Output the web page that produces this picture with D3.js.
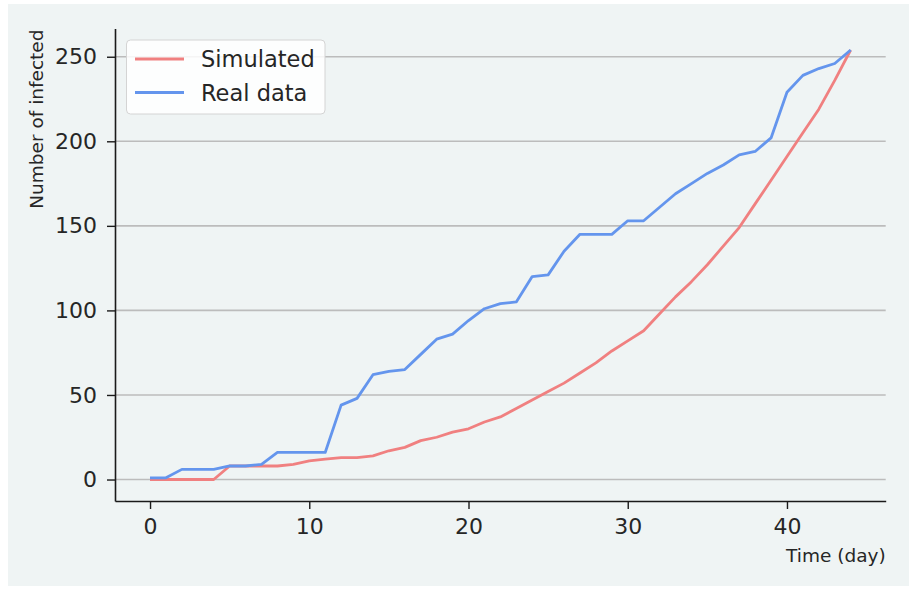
<!DOCTYPE html>
<html>
<head>
<meta charset="utf-8">
<script src="https://cdn.jsdelivr.net/npm/d3@7"></script>
<style>
  html, body { margin: 0; padding: 0; background: #ffffff; }
  svg { display: block; font-family: "DejaVu Sans", sans-serif; }
</style>
</head>
<body>
<svg id="chart" width="917" height="589"></svg>
<script>
// Daily counts of infected people, day 0 to day 44
const days = d3.range(0, 45);
const simulated = [0, 0, 0, 0, 0, 8, 8, 8, 8, 9, 11, 12, 13, 13, 14, 17, 19, 23, 25, 28,
  30, 34, 37, 42, 47, 52, 57, 63, 69, 76, 82, 88, 98, 108, 117, 127, 138, 149, 163, 177,
  191, 205, 219, 236, 254];
const realData = [1, 1, 6, 6, 6, 8, 8, 9, 16, 16, 16, 16, 44, 48, 62, 64, 65, 74, 83, 86,
  94, 101, 104, 105, 120, 121, 135, 145, 145, 145, 153, 153, 161, 169, 175, 181, 186, 192, 194, 202,
  229, 239, 243, 246, 254];
const xTicks = [0, 10, 20, 30, 40];
const yTicks = [0, 50, 100, 150, 200, 250];
const seriesNames = ["Simulated", "Real data"];
const seriesColors = ["#f08080", "#6495ed"];

const svg = d3.select("#chart");

// panel background
svg.append("rect")
  .attr("x", 8).attr("y", 4).attr("width", 901).attr("height", 582)
  .attr("fill", "#eff4f4");

const x = d3.scaleLinear().domain([-2.2, 46.2]).range([115, 885.7]);
const y = d3.scaleLinear().domain([-12.7, 266.7]).range([501, 28.5]);

// horizontal grid lines
svg.append("g")
  .selectAll("line")
  .data(yTicks)
  .join("line")
  .attr("x1", x.range()[0]).attr("x2", x.range()[1])
  .attr("y1", d => y(d)).attr("y2", d => y(d))
  .attr("stroke", "#bcbcbc").attr("stroke-width", 1.6);

// axes
const xAxis = svg.append("g")
  .attr("transform", `translate(0,${y.range()[0]})`)
  .call(d3.axisBottom(x).tickValues(xTicks).tickSize(8).tickPadding(9).tickSizeOuter(0));
const yAxis = svg.append("g")
  .attr("transform", `translate(${x.range()[0]},0)`)
  .call(d3.axisLeft(y).tickValues(yTicks).tickSize(8).tickPadding(10).tickSizeOuter(0));

[xAxis, yAxis].forEach(g => {
  g.select(".domain").attr("stroke", "#1a1a1a").attr("stroke-width", 1.6);
  g.selectAll(".tick line").attr("stroke", "#1a1a1a").attr("stroke-width", 1.4);
  g.selectAll(".tick text").attr("fill", "#262626").style("font-size", "22px")
    .style("font-family", "DejaVu Sans, sans-serif");
});

// axis labels
svg.append("text")
  .attr("x", x.range()[1]).attr("y", 562)
  .attr("text-anchor", "end")
  .attr("fill", "#262626")
  .style("font-size", "18.5px")
  .text("Time (day)");

svg.append("text")
  .attr("transform", `translate(43,${y.range()[1] + 1}) rotate(-90)`)
  .attr("text-anchor", "end")
  .attr("fill", "#262626")
  .style("font-size", "18.5px")
  .text("Number of infected");

// series lines
const line = d3.line()
  .x((d, i) => x(days[i]))
  .y(d => y(d));

[simulated, realData].forEach((vals, k) => {
  svg.append("path")
    .datum(vals)
    .attr("d", line)
    .attr("fill", "none")
    .attr("stroke", seriesColors[k])
    .attr("stroke-width", 2.8)
    .attr("stroke-linejoin", "round");
});

// legend
const legend = svg.append("g");
legend.append("rect")
  .attr("x", 126.5).attr("y", 40).attr("width", 198.5).attr("height", 74)
  .attr("rx", 4)
  .attr("fill", "#ffffff").attr("fill-opacity", 0.85)
  .attr("stroke", "#d4d4d4").attr("stroke-width", 1);

seriesNames.forEach((name, k) => {
  const cy = 59 + k * 33.5;
  legend.append("line")
    .attr("x1", 135).attr("x2", 184)
    .attr("y1", cy).attr("y2", cy)
    .attr("stroke", seriesColors[k]).attr("stroke-width", 2.8);
  legend.append("text")
    .attr("x", 201).attr("y", cy)
    .attr("dy", "0.36em")
    .attr("fill", "#262626")
    .style("font-size", "22.5px")
    .text(name);
});
</script>
</body>
</html>
